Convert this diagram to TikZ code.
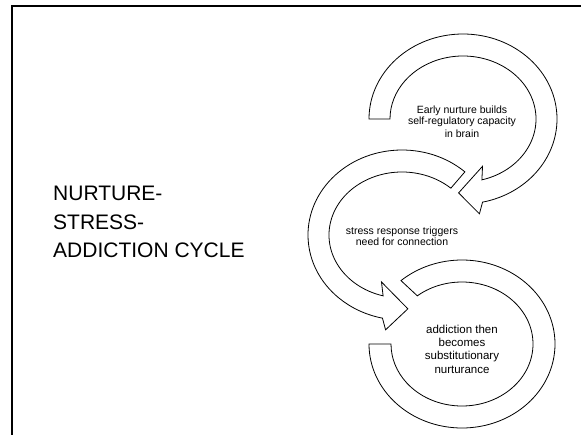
\documentclass[tikz,border=0pt]{standalone}
\usepackage{fontspec}
\setmainfont{Liberation Sans}
\usepackage{tikz}

\begin{document}
\begin{tikzpicture}[x=1pt, y=1pt,
    ring/.style={draw, fill=white, line width=0.8pt, line join=miter},
    ringtext/.style={align=center, inner sep=0pt, font=\fontsize{10.5}{10.5}\selectfont}]
  \useasboundingbox (0,0) rectangle (581,-434);
  \clip (0,0) rectangle (581,-434);
  \draw[line width=2pt] (11.5,-450) -- (11.5,-5.5) -- (600,-5.5);

  \node[anchor=north west, align=left, inner sep=0pt, font=\fontsize{21}{28.5}\selectfont]
    (title) at (53,-186) {NURTURE-\\STRESS-\\ADDICTION CYCLE};

  \coordinate (c1) at (463,-119);
  \coordinate (c2) at (402,-235);
  \coordinate (c3) at (462,-344);

  % top ring, clockwise
  \begin{scope}[shift={(c1)}]
    \draw[ring] (180:94 and 85) arc[start angle=180, end angle=-78, x radius=94, y radius=85]
      -- (-81:105 and 96) -- (-93:84 and 74) -- (-71:60 and 50) -- (-75:73 and 63)
      arc[start angle=-75, end angle=180, x radius=73, y radius=63] -- cycle;
  \end{scope}
  % middle ring, counterclockwise
  \begin{scope}[shift={(c2)}]
    \draw[ring] (48:94 and 85) arc[start angle=48, end angle=258, x radius=94, y radius=85]
      -- (261:105 and 96) -- (274:84 and 74) -- (250:60 and 50) -- (255:73 and 63)
      arc[start angle=255, end angle=48, x radius=73, y radius=63] -- cycle;
  \end{scope}
  % bottom ring, no head
  \begin{scope}[shift={(c3)}]
    \draw[ring] (180:93 and 84) arc[start angle=180, end angle=491, x radius=93, y radius=84]
      -- (489:71 and 62)
      arc[start angle=489, end angle=180, x radius=71, y radius=62] -- cycle;
  \end{scope}

  \node[ringtext] (nurture) at (462,-122) {Early nurture builds\\self-regulatory capacity\\[3pt]in brain};
  \node[ringtext] (stress) at (402,-236) {stress response triggers\\need for connection};
  \node[ringtext, font=\fontsize{11.5}{13.3}\selectfont] (addict) at (462,-349)
    {addiction then\\becomes\\substitutionary\\nurturance};
\end{tikzpicture}
\end{document}
